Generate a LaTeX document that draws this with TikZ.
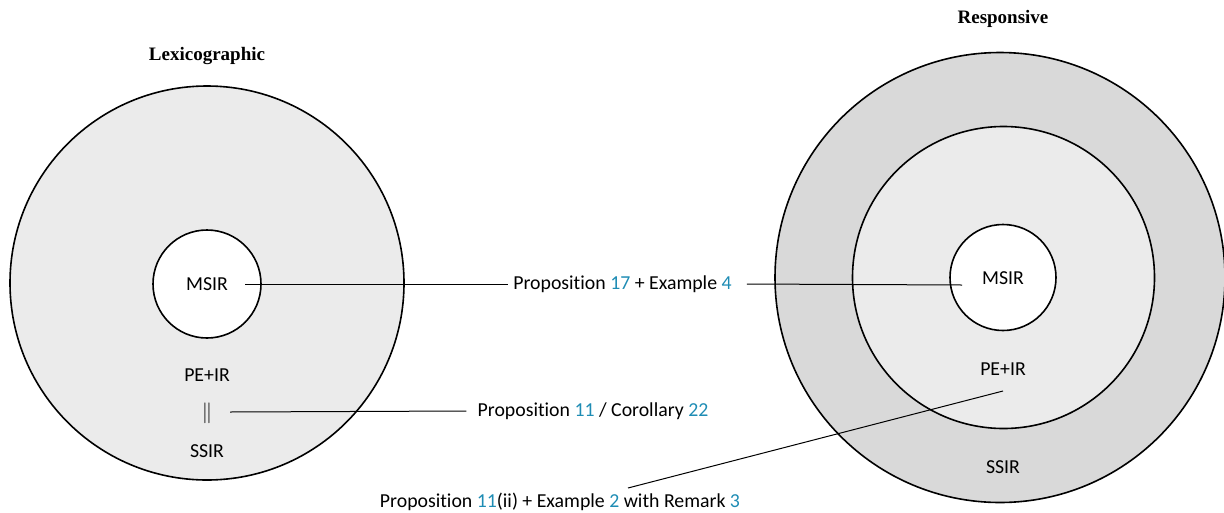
\documentclass[tikz,border=0pt]{standalone}
\usepackage{fontspec}
\setmainfont[Ligatures=CommonOff]{Carlito}
\newfontfamily\titlefont{Liberation Serif}
\usetikzlibrary{calc}
\definecolor{reflink}{RGB}{30,140,180}
\definecolor{lightfill}{RGB}{235,235,235}
\definecolor{darkfill}{RGB}{217,217,217}
\tikzset{
  ring/.style={draw=black, line width=1.6pt},
  lbl/.style={inner sep=0pt, font=\fontsize{19.8}{22}\selectfont},
  ttl/.style={inner sep=0pt, font=\titlefont\bfseries\fontsize{19}{22}\selectfont},
  conn/.style={draw=black, line width=1pt},
}
\newcommand{\rf}[1]{\textcolor{reflink}{#1}}
\begin{document}
\begin{tikzpicture}[x=1pt,y=-1pt]
\useasboundingbox (0,0) rectangle (1224,512);
% left diagram
\draw[ring, fill=lightfill] (207,283) circle (197);
\draw[ring, fill=white] (207,284) circle (54);
\node[ttl] (lextitle) at (207,56) {Lexicographic};
\node[lbl] (lmsir) at (207,284) {MSIR};
\node[lbl] (lpeir) at (207,375) {PE+IR};
\node[lbl] (leq) at (207,413) {$\|$};
\node[lbl] (lssir) at (207,451) {SSIR};
% right diagram
\draw[ring, fill=darkfill] (1000,277.5) circle (225);
\draw[ring, fill=lightfill] (1003.5,277.5) circle (151);
\draw[ring, fill=white] (1003,277.5) circle (53);
\node[ttl] (restitle) at (1003,19) {Responsive};
\node[lbl] (rmsir) at (1003,278) {MSIR};
\node[lbl] (rpeir) at (1003,369) {PE+IR};
\node[lbl] (rssir) at (1003,467) {SSIR};
% labels
\node[lbl] (p17) at (622.5,284) {Proposition \rf{17} + Example \rf{4}};
\node[lbl] (p11) at (593,411) {Proposition \rf{11} / Corollary \rf{22}};
\node[lbl] (p11ii) at (560,502) {Proposition \rf{11}(ii) + Example \rf{2} with Remark \rf{3}};
% connectors
\coordinate (a1) at (245,284);
\coordinate (a2) at (962,285);
\coordinate (b1) at (230,412);
\coordinate (c1) at (628,488);
\coordinate (c2) at (1003,391);
\draw[conn] (a1) -- ($(p17.west)+(-5,0)$);
\draw[conn] ($(p17.east)+(15,0)$) -- (a2);
\draw[conn] (b1) -- ($(p11.west)+(-11,0)$);
\draw[conn] (c1) -- (c2);
\end{tikzpicture}
\end{document}
